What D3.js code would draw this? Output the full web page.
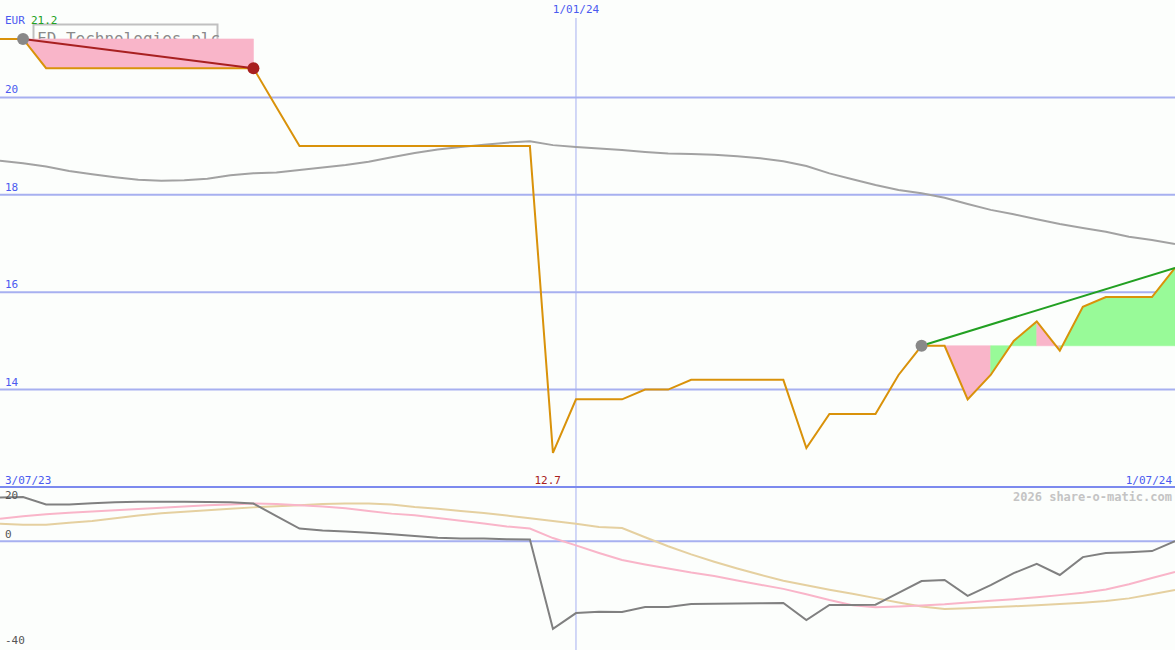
<!DOCTYPE html>
<html>
<head>
<meta charset="utf-8">
<script src="https://cdn.jsdelivr.net/npm/d3@7"></script>
<style>
html,body{margin:0;padding:0;background:#fcfefc;}
svg{display:block;}
text{font-family:"DejaVu Sans Mono",monospace;}
</style>
</head>
<body>
<svg id="chart" width="1175" height="650"></svg>
<script>
// ---- data ----
const dates = ["3/07/23","10/07/23","17/07/23","24/07/23","31/07/23","7/08/23","14/08/23","21/08/23","28/08/23","4/09/23",
"11/09/23","18/09/23","25/09/23","2/10/23","9/10/23","16/10/23","23/10/23","30/10/23","6/11/23","13/11/23",
"20/11/23","27/11/23","4/12/23","11/12/23","18/12/23","1/01/24","8/01/24","15/01/24","22/01/24","29/01/24",
"5/02/24","12/02/24","19/02/24","26/02/24","4/03/24","11/03/24","18/03/24","25/03/24","1/04/24","8/04/24",
"15/04/24","22/04/24","29/04/24","6/05/24","13/05/24","20/05/24","27/05/24","3/06/24","10/06/24","17/06/24",
"24/06/24","1/07/24"];
const price = [21.2,21.2,20.6,20.6,20.6,20.6,20.6,20.6,20.6,20.6,
20.6,20.6,19.8,19.0,19.0,19.0,19.0,19.0,19.0,19.0,
19.0,19.0,19.0,19.0,12.7,13.8,13.8,13.8,14.0,14.0,
14.2,14.2,14.2,14.2,14.2,12.8,13.5,13.5,13.5,14.3,
14.9,14.9,13.8,14.3,15.0,15.4,14.8,15.7,15.9,15.9,
15.9,16.5];
const movingAvg = [18.70,18.65,18.58,18.49,18.42,18.36,18.31,18.29,18.30,18.33,
18.40,18.44,18.46,18.51,18.56,18.61,18.68,18.77,18.86,18.93,
18.98,19.03,19.07,19.10,19.02,18.98,18.95,18.92,18.88,18.85,
18.84,18.82,18.79,18.75,18.69,18.59,18.44,18.32,18.20,18.10,
18.03,17.94,17.81,17.69,17.60,17.50,17.40,17.32,17.24,17.14,
17.07,16.99];
const momentum = [16.1,16.3,13.6,13.6,14.0,14.4,14.6,14.6,14.6,14.5,
14.4,13.9,9.3,4.7,4.0,3.6,3.2,2.6,2.0,1.3,
1.0,1.0,0.8,0.7,-32.2,-26.4,-25.9,-26.0,-24.2,-24.2,
-23.1,-23.0,-22.9,-22.8,-22.7,-29.0,-23.4,-23.4,-23.3,-19.0,
-14.6,-14.2,-20.1,-16.1,-11.7,-8.3,-12.4,-5.8,-4.3,-4.0,
-3.6,0.1];
const pinkLine = [8.3,9.2,10.0,10.5,11.0,11.4,11.9,12.4,12.8,13.3,
13.6,13.9,13.7,13.3,12.8,12.2,11.2,10.2,9.6,8.6,
7.6,6.6,5.5,4.7,1.2,-1.5,-4.3,-6.9,-8.5,-10.0,
-11.5,-12.8,-14.4,-16.0,-17.5,-19.5,-21.6,-23.5,-24.3,-24.0,
-23.6,-23.2,-22.5,-21.9,-21.3,-20.6,-19.8,-18.9,-17.7,-15.8,
-13.5,-11.3];
const tanLine = [6.5,6.1,6.1,6.8,7.5,8.5,9.5,10.3,10.9,11.4,
12.0,12.5,12.9,13.3,13.7,13.9,13.9,13.6,12.6,12.0,
11.2,10.4,9.5,8.5,7.5,6.5,5.3,4.9,1.5,-1.8,
-4.8,-7.5,-10.0,-12.3,-14.5,-16.2,-17.8,-19.3,-20.9,-22.5,
-24.0,-24.9,-24.6,-24.3,-23.9,-23.5,-23.1,-22.6,-22.0,-21.0,
-19.5,-17.9];
const priceTicks = [14,16,18,20];
const lowerTicks = [20,0,-40];
const trendSegments = [[1,11],[40,51]]; // index pairs
const title = "FD Technologies plc";
const currency = "EUR";
const midDate = "1/01/24";
const copyright = "2026 share-o-matic.com";

// ---- scales ----
const W = 1175, H = 650, SPLIT = 487;
const svg = d3.select("#chart");
const x = d3.scalePoint().domain(dates).range([0, W]);
const y = d3.scaleLinear().domain([12, 22]).range([SPLIT, 0]);
const y2 = d3.scaleLinear().domain([-40, 20]).range([H, SPLIT]);
const X = i => x(dates[i]);

svg.append("rect").attr("width", W).attr("height", H).attr("fill", "#fcfefc");

// gridlines top
svg.selectAll(".grid").data(priceTicks).join("line")
  .attr("x1", 0).attr("x2", W)
  .attr("y1", d => y(d)).attr("y2", d => y(d))
  .attr("stroke", "#a7b0f0").attr("stroke-width", 2);
svg.selectAll(".glab").data(priceTicks).join("text")
  .attr("x", 5).attr("y", d => y(d) - 4)
  .attr("font-size", 11).attr("fill", "#4a5af0").text(d => d);

// lower zero line
svg.append("line").attr("x1", 0).attr("x2", W).attr("y1", y2(0)).attr("y2", y2(0))
  .attr("stroke", "#a7b0f0").attr("stroke-width", 2);

// vertical date line
svg.append("line").attr("x1", x(midDate)).attr("x2", x(midDate))
  .attr("y1", 18).attr("y2", H).attr("stroke", "#a7b0f0").attr("stroke-width", 1);
svg.append("text").attr("x", x(midDate)).attr("y", 13).attr("text-anchor", "middle")
  .attr("font-size", 11).attr("fill", "#4a5af0").text(midDate);

// title box
svg.append("rect").attr("x", 33.5).attr("y", 24.5).attr("width", 184).attr("height", 26)
  .attr("fill", "#fcfefc").attr("stroke", "#c0c0c0").attr("stroke-width", 2);
svg.append("text").attr("x", 37).attr("y", 44).attr("font-size", 16).attr("fill", "#8a8a8a").text(title);

// currency label
svg.append("text").attr("x", 5).attr("y", 24).attr("font-size", 11).attr("fill", "#4a5af0").text(currency);
svg.append("text").attr("x", 31).attr("y", 24).attr("font-size", 11).attr("fill", "#22a022").text(d3.format(".1f")(price[0]));

// fills relative to anchor: merge consecutive intervals of the same colour
const area = d3.area().x(d => X(d.i)).y0(d => y(d.base)).y1(d => y(d.v));
trendSegments.forEach(([a, b]) => {
  const base = price[a];
  let run = null, runColor = null;
  const flush = () => {
    if (run) svg.append("path").attr("d", area(run)).attr("fill", runColor)
      .attr("stroke", runColor).attr("stroke-width", 0.6);
  };
  for (let i = a; i < b; i++) {
    const c = price[i + 1] > base ? "#98fa98" : "#f9b5c9";
    if (c !== runColor) {
      flush();
      run = [{i: i, v: price[i], base}];
      runColor = c;
    }
    run.push({i: i + 1, v: price[i + 1], base});
  }
  flush();
});

// moving average
const line = d3.line().x((d, i) => X(i)).y(d => y(d));
svg.append("path").attr("d", line(movingAvg)).attr("fill", "none")
  .attr("stroke", "#a2a2a2").attr("stroke-width", 2);

// price
svg.append("path").attr("d", line(price)).attr("fill", "none")
  .attr("stroke", "#d9920a").attr("stroke-width", 2);

// trend lines
const tColors = ["#a82020", "#22a022"];
trendSegments.forEach(([a, b], k) => {
  svg.append("line").attr("x1", X(a)).attr("y1", y(price[a])).attr("x2", X(b)).attr("y2", y(price[b]))
    .attr("stroke", tColors[k]).attr("stroke-width", 2);
});
// markers
svg.append("circle").attr("cx", X(trendSegments[0][0])).attr("cy", y(price[trendSegments[0][0]])).attr("r", 6).attr("fill", "#888");
svg.append("circle").attr("cx", X(trendSegments[0][1])).attr("cy", y(price[trendSegments[0][1]])).attr("r", 6).attr("fill", "#a82020");
svg.append("circle").attr("cx", X(trendSegments[1][0])).attr("cy", y(price[trendSegments[1][0]])).attr("r", 6).attr("fill", "#888");

// bottom labels of top panel
const minI = d3.minIndex(price);
svg.append("text").attr("x", 5).attr("y", 484).attr("font-size", 11).attr("fill", "#4a5af0").text(dates[0]);
svg.append("text").attr("x", X(minI) + 8).attr("y", 484).attr("text-anchor", "end")
  .attr("font-size", 11).attr("fill", "#a82020").text(d3.format(".1f")(price[minI]));
svg.append("text").attr("x", W - 3).attr("y", 484).attr("text-anchor", "end")
  .attr("font-size", 11).attr("fill", "#4a5af0").text(dates[dates.length - 1]);

// split axis line
svg.append("line").attr("x1", 0).attr("x2", W).attr("y1", SPLIT).attr("y2", SPLIT)
  .attr("stroke", "#7c8aee").attr("stroke-width", 2);

svg.append("text").attr("x", W - 3).attr("y", 501).attr("text-anchor", "end")
  .attr("font-size", 12).attr("font-weight", "bold").attr("fill", "#c4c4c4").text(copyright);

// lower panel lines
const line2 = d3.line().x((d, i) => X(i)).y(d => y2(d));
svg.append("path").attr("d", line2(tanLine)).attr("fill", "none").attr("stroke", "#e5d0a0").attr("stroke-width", 2);
svg.append("path").attr("d", line2(pinkLine)).attr("fill", "none").attr("stroke", "#f9b5c9").attr("stroke-width", 2);
svg.append("path").attr("d", line2(momentum)).attr("fill", "none").attr("stroke", "#808080").attr("stroke-width", 2);

// lower labels
svg.selectAll(".llab").data(lowerTicks).join("text")
  .attr("x", 5).attr("y", d => d === 20 ? 499 : (d === 0 ? 538 : 644))
  .attr("font-size", 11).attr("fill", "#555").text(d => d);
</script>
</body>
</html>
